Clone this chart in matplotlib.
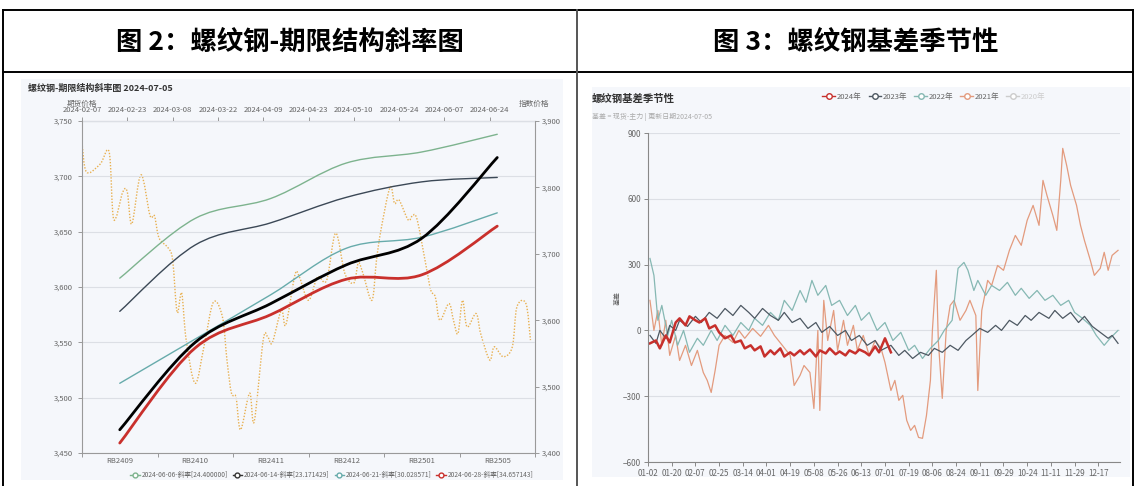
import numpy as np
import matplotlib
matplotlib.use("Agg")
import matplotlib.pyplot as plt
from matplotlib.path import Path
from matplotlib.patches import PathPatch, Rectangle
from matplotlib.lines import Line2D
from matplotlib.ticker import FuncFormatter

plt.rcParams['font.family'] = ['Noto Sans CJK SC', 'DejaVu Sans']

# ---- left chart: term structure (left axis) + index price (right axis, dotted)
contracts = ['RB2409', 'RB2410', 'RB2411', 'RB2412', 'RB2501', 'RB2505']
curve_0606 = [3608, 3662, 3680, 3712, 3722, 3738]
curve_0614 = [3578, 3638, 3658, 3681, 3695, 3699]
curve_0621 = [3513, 3553, 3593, 3635, 3645, 3667]
curve_0705 = [3471, 3550, 3585, 3620, 3644, 3717]
curve_0628 = [3459, 3545, 3575, 3607, 3611, 3655]
legend_left = ['2024-06-06-斜率[24.400000]', '2024-06-14-斜率[23.171429]',
               '2024-06-21-斜率[30.028571]', '2024-06-28-斜率[34.657143]']

top_dates = ['2024-02-07', '2024-02-23', '2024-03-08', '2024-03-22', '2024-04-09',
             '2024-04-23', '2024-05-10', '2024-05-24', '2024-06-07', '2024-06-24']
index_day = [0, 1, 4, 6, 7, 9, 10, 11, 13, 15, 16, 17, 19, 20, 21, 22, 23, 25, 27, 29,
             31, 32, 33, 34, 35, 37, 38, 40, 41, 42, 44, 45, 47, 48, 50, 52, 54, 56, 58,
             60, 61, 62, 64, 65, 66, 68, 69, 70, 72, 73, 74, 76, 77, 78, 79, 81, 82, 83,
             84, 85, 87, 88, 90, 91, 93, 95, 96, 98, 99]
index_price = [3867, 3823, 3835, 3853, 3752, 3793, 3793, 3745, 3819, 3758, 3757, 3724,
               3709, 3691, 3612, 3641, 3570, 3505, 3563, 3627, 3605, 3540, 3490, 3484,
               3435, 3490, 3447, 3570, 3575, 3566, 3615, 3593, 3668, 3665, 3630, 3665,
               3660, 3731, 3671, 3656, 3686, 3671, 3630, 3690, 3736, 3800, 3776, 3781,
               3751, 3758, 3751, 3680, 3645, 3635, 3600, 3625, 3600, 3580, 3630, 3590,
               3610, 3580, 3540, 3560, 3545, 3560, 3620, 3625, 3570]

# ---- right chart: basis seasonality (trading-day index, basis)
season_labels = ['01-02', '01-20', '02-07', '02-25', '03-14', '04-01', '04-19', '05-08',
                 '05-26', '06-13', '07-01', '07-19', '08-06', '08-24', '09-11', '09-29',
                 '10-24', '11-11', '11-29', '12-17']

day_2024 = [1, 4, 6, 9, 11, 14, 16, 19, 21, 24, 26, 29, 31, 34, 36, 39, 42, 44, 47, 49,
            52, 54, 57, 59, 62, 64, 67, 69, 72, 74, 77, 79, 82, 85, 87, 90, 92, 95, 97,
            100, 102, 105, 107, 110, 112, 115, 117, 120, 123]
basis_2024 = [-59, -46, -82, -23, -55, 36, 55, 23, 64, 46, 36, 55, 9, 23, -9, -36, -23,
              -55, -46, -82, -68, -91, -73, -119, -91, -109, -82, -119, -100, -114, -91,
              -109, -87, -119, -91, -105, -82, -109, -96, -114, -91, -105, -87, -100,
              -114, -73, -100, -36, -100]

day_2023 = [1, 4, 6, 9, 11, 14, 16, 20, 24, 27, 31, 35, 39, 43, 47, 51, 54, 58, 62, 66,
            69, 73, 77, 81, 85, 88, 92, 96, 100, 103, 107, 111, 115, 118, 123, 127, 130,
            134, 138, 142, 145, 149, 153, 157, 161, 164, 168, 172, 176, 179, 183, 187,
            191, 194, 198, 203, 206, 210, 214, 218, 221, 225, 229, 233, 235, 238]
basis_2023 = [-23, -59, 0, -36, 23, 0, 46, 18, 64, 36, 82, 55, 100, 68, 114, 82, 55, 100,
              68, 46, 82, 36, 55, 9, 36, -9, 18, -23, 0, -46, -23, -68, -46, -91, -68,
              -114, -91, -128, -100, -114, -82, -100, -68, -91, -46, -23, 9, -9, 23, 0,
              46, 23, 68, 46, 82, 55, 91, 55, 82, 36, 64, 18, -9, -36, -23, -59]

day_2022 = [1, 3, 5, 7, 10, 12, 15, 18, 21, 25, 28, 32, 35, 39, 43, 47, 51, 54, 58, 62,
            66, 69, 73, 77, 80, 83, 86, 90, 93, 97, 101, 105, 108, 112, 116, 120, 124,
            128, 132, 135, 139, 143, 147, 150, 154, 157, 160, 162, 165, 167, 171, 174,
            178, 182, 186, 189, 193, 197, 201, 205, 209, 213, 216, 220, 224, 227, 231,
            234, 238]
basis_2022 = [328, 251, 46, 114, -23, 46, -68, 0, -100, -36, -68, 0, -46, 23, -23, 36, 0,
              55, 23, 82, 46, 137, 91, 182, 128, 228, 160, 205, 114, 137, 68, 114, 46,
              82, 0, 36, -46, -9, -91, -68, -128, -82, -46, 0, 46, 283, 310, 274, 182,
              228, 160, 205, 182, 219, 160, 192, 146, 182, 137, 160, 114, 137, 82, 55,
              23, -23, -68, -36, 0]

day_2021 = [1, 3, 5, 7, 9, 11, 14, 16, 19, 22, 25, 28, 30, 32, 34, 36, 39, 43, 46, 49,
            53, 57, 61, 64, 68, 72, 74, 77, 79, 82, 84, 86, 87, 89, 91, 94, 96, 99, 101,
            104, 106, 109, 112, 115, 118, 120, 123, 125, 127, 129, 131, 133, 135, 137,
            139, 141, 143, 144, 146, 147, 149, 151, 153, 155, 158, 161, 163, 166, 167,
            169, 172, 174, 177, 180, 183, 186, 189, 192, 195, 198, 200, 202, 205, 207,
            209, 210, 212, 214, 217, 219, 221, 224, 226, 229, 231, 233, 235, 238]
basis_2021 = [137, 0, 91, -68, 46, -114, -23, -137, -68, -160, -91, -192, -228, -283,
              -182, -68, -23, -55, 0, -36, 9, -27, 23, -23, -68, -114, -251, -205, -160,
              -192, -356, 0, -365, 137, -46, 91, -91, 46, -68, 23, -91, -23, -114, -46,
              -82, -146, -274, -228, -319, -296, -410, -456, -433, -488, -492, -388,
              -228, 0, 274, -46, -310, 0, 114, 137, 46, 91, 137, 68, -274, 91, 228, 205,
              296, 274, 365, 433, 388, 502, 570, 479, 684, 616, 524, 456, 684, 830, 752,
              661, 570, 479, 410, 319, 251, 283, 356, 274, 342, 365]

W, H = 1136, 486
fig = plt.figure(figsize=(W / 100, H / 100), dpi=100)


def box(l, t, r, b):
    return [l / W, 1 - b / H, (r - l) / W, (b - t) / H]


def fline(x0, y0, x1, y1, color='black', lw=1.4):
    fig.add_artist(Line2D([x0 / W, x1 / W], [1 - y0 / H, 1 - y1 / H],
                          transform=fig.transFigure, color=color, lw=lw))


def smooth_path(xs, ys):
    # catmull-rom through the read points, drawn as bezier segments
    xs = list(xs)
    ys = list(ys)
    n = len(xs)
    verts = [(xs[0], ys[0])]
    codes = [Path.MOVETO]
    for i in range(n - 1):
        a = i - 1 if i > 0 else i
        d = i + 2 if i + 2 < n else i + 1
        c1 = (xs[i] + (xs[i + 1] - xs[a]) / 6, ys[i] + (ys[i + 1] - ys[a]) / 6)
        c2 = (xs[i + 1] - (xs[d] - xs[i]) / 6, ys[i + 1] - (ys[d] - ys[i]) / 6)
        verts += [c1, c2, (xs[i + 1], ys[i + 1])]
        codes += [Path.CURVE4] * 3
    return Path(verts, codes)


comma = FuncFormatter(lambda v, _: f'{int(v):,}')
grey_txt = '#666666'
axis_col = '#9a9a9a'

# table frame
fline(3, 10, 1133, 10)
fline(3, 72, 1133, 72)
fline(3, 10, 3, 486)
fline(577, 10, 577, 486, color='#555555')
fline(1133, 10, 1133, 486)
fig.text(290 / W, 1 - 42 / H, '图 2：螺纹钢-期限结构斜率图', fontsize=19, fontweight='bold',
         ha='center', va='center', color='black')
fig.text(856 / W, 1 - 42 / H, '图 3：螺纹钢基差季节性', fontsize=19, fontweight='bold',
         ha='center', va='center', color='black')

# panel backgrounds
fig.add_artist(Rectangle((21 / W, 1 - 480 / H), (563 - 21) / W, (480 - 79) / H,
                         transform=fig.transFigure, facecolor='#f5f7fb', edgecolor='none', zorder=0))
fig.add_artist(Rectangle((592 / W, 1 - 477 / H), (1130 - 592) / W, (477 - 87) / H,
                         transform=fig.transFigure, facecolor='#f5f7fb', edgecolor='none', zorder=0))

# ---------------- left chart
ax2 = fig.add_axes(box(82, 121, 535, 453))
ax2.set_facecolor('none')
ax2.add_patch(PathPatch(smooth_path(index_day, index_price), fill=False,
                        edgecolor='#e8b050', lw=1.0, linestyle=(0, (1, 1.2))))
ax2.set_xlim(0, 100)
ax2.set_ylim(3400, 3900)
ax2.xaxis.tick_top()
ax2.yaxis.tick_right()
ax2.set_xticks(range(0, 100, 10))
ax2.set_xticklabels(top_dates)
ax2.set_yticks(range(3400, 3901, 100))
ax2.yaxis.set_major_formatter(comma)
for s in ['left', 'bottom']:
    ax2.spines[s].set_visible(False)
for s in ['top', 'right']:
    ax2.spines[s].set_color(axis_col)
    ax2.spines[s].set_linewidth(0.8)
ax2.tick_params(labelsize=5.5, labelcolor=grey_txt, color=axis_col, length=3, width=0.7, pad=2)

ax = fig.add_axes(box(82, 121, 535, 453))
ax.set_facecolor('none')
ax.set_zorder(ax2.get_zorder() + 1)
xc = np.arange(len(contracts))
curves = [(curve_0606, '#7db38e', 1.0), (curve_0614, '#3b4856', 1.0),
          (curve_0621, '#67abab', 1.0), (curve_0705, '#000000', 2.0),
          (curve_0628, '#c9302c', 2.0)]
for vals, col, lw in curves:
    ax.add_patch(PathPatch(smooth_path(xc, vals), fill=False, edgecolor=col, lw=lw,
                           capstyle='round', zorder=3))
ax.set_xlim(-0.5, len(contracts) - 0.5)
ax.set_ylim(3450, 3750)
ax.set_yticks(range(3450, 3751, 50))
ax.yaxis.set_major_formatter(comma)
ax.set_xticks(np.arange(-0.5, len(contracts), 1))
ax.set_xticklabels([])
ax.set_xticks(xc, minor=True)
ax.set_xticklabels(contracts, minor=True)
ax.tick_params(which='both', labelsize=5.5, labelcolor=grey_txt, color=axis_col, length=3, width=0.7)
ax.tick_params(axis='x', which='minor', length=0, pad=3)
ax.yaxis.grid(True, color='#dcdfe5', lw=0.8)
ax.set_axisbelow(True)
for s in ['top', 'right']:
    ax.spines[s].set_visible(False)
for s in ['left', 'bottom']:
    ax.spines[s].set_color(axis_col)
    ax.spines[s].set_linewidth(0.8)

fig.text(28 / W, 1 - 88 / H, '螺纹钢-期限结构斜率图 2024-07-05', fontsize=6.5, fontweight='bold',
         color='#333333', va='center')
fig.text(82 / W, 1 - 104 / H, '期货价格', fontsize=5.5, color=grey_txt, ha='center', va='center')
fig.text(534 / W, 1 - 104 / H, '指数价格', fontsize=5.5, color=grey_txt, ha='center', va='center')

left_handles = [Line2D([], [], color=c, lw=1, marker='o', markersize=3.5,
                       markerfacecolor='white', markeredgecolor=c)
                for c in ['#7db38e', '#333333', '#67abab', '#c9302c']]
fig.legend(left_handles, legend_left, loc='center', bbox_to_anchor=(332 / W, 1 - 475 / H),
           ncol=4, frameon=False, fontsize=4.8, labelcolor=grey_txt, handlelength=1.4,
           handletextpad=0.3, columnspacing=0.7, borderpad=0.1)

# ---------------- right chart
ax3 = fig.add_axes(box(648, 133, 1120, 462))
ax3.set_facecolor('none')
ax3.plot(day_2021, basis_2021, color='#e39b7e', lw=0.9)
ax3.plot(day_2022, basis_2022, color='#86b8b3', lw=0.9)
ax3.plot(day_2023, basis_2023, color='#4d5862', lw=0.9)
ax3.plot(day_2024, basis_2024, color='#c7302c', lw=1.8)
ax3.set_xlim(0, 239)
ax3.set_ylim(-600, 900)
ax3.set_yticks(range(-600, 901, 300))
ax3.set_xticks(range(0, 12 * len(season_labels), 12))
ax3.set_xticklabels(season_labels)
ax3.tick_params(labelsize=5.8, labelcolor=grey_txt, color='#888888', length=3, width=0.7, pad=2)
ax3.yaxis.grid(True, color='#dcdfe5', lw=0.8)
ax3.set_axisbelow(True)
for s in ['top', 'right']:
    ax3.spines[s].set_visible(False)
for s in ['left', 'bottom']:
    ax3.spines[s].set_color('#888888')
    ax3.spines[s].set_linewidth(0.8)

fig.text(592 / W, 1 - 99 / H, '螺纹钢基差季节性', fontsize=7.5, fontweight='bold',
         color='#333333', va='center')
fig.text(592 / W, 1 - 117 / H, '基差 = 现货-主力 | 更新日期2024-07-05', fontsize=5,
         color='#aaaaaa', va='center')
fig.text(618 / W, 1 - 298 / H, '基差', fontsize=5, color='#555555', rotation=90,
         ha='center', va='center')

years = ['2024年', '2023年', '2022年', '2021年', '2020年']
year_cols = ['#c7302c', '#4d5862', '#86b8b3', '#e39b7e', '#cccccc']
right_handles = [Line2D([], [], color=c, lw=1, marker='o', markersize=4,
                        markerfacecolor='white', markeredgecolor=c) for c in year_cols]
leg = fig.legend(right_handles, years, loc='center', bbox_to_anchor=(934 / W, 1 - 97 / H),
                 ncol=5, frameon=False, fontsize=5.5, handlelength=1.6,
                 handletextpad=0.3, columnspacing=0.9)
for t, c in zip(leg.get_texts(), [grey_txt] * 4 + ['#cccccc']):
    t.set_color(c)

fig.savefig('out.png', dpi=100)
